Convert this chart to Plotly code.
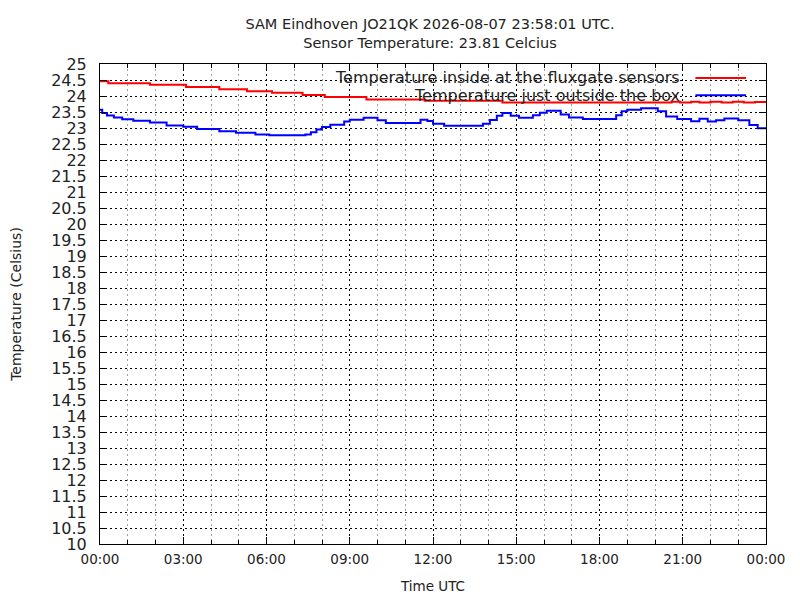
import plotly.graph_objects as go
import pandas as pd

day = "2026-08-07"

# inside sensor temperature (hours since midnight, Celsius)
inside_hours = [0.0, 0.3, 1.8, 3.1, 4.3, 5.3, 6.2, 7.3, 8.1, 9.6, 11.7, 14.5,
                20.6, 20.9, 21.3, 21.6, 22.0, 22.4, 22.8, 23.2, 23.6, 24.0]
inside_temp = [24.46, 24.40, 24.35, 24.28, 24.21, 24.15, 24.10, 24.03, 23.97, 23.89, 23.85, 23.80,
               23.82, 23.80, 23.82, 23.80, 23.82, 23.80, 23.82, 23.80, 23.81, 23.81]

# outside box temperature
outside_hours = [0.0, 0.08, 0.25, 0.5, 0.8, 1.2, 1.8, 2.4, 3.0, 3.5, 4.3, 4.9, 5.6, 6.1,
                 7.4, 7.6, 7.8, 8.0, 8.3, 8.8, 9.0, 9.5, 10.0, 10.3, 11.55, 11.8, 12.0, 12.4,
                 13.8, 14.05, 14.3, 14.5, 14.8, 15.1, 15.6, 15.85, 16.1, 16.6, 16.9, 17.4,
                 18.6, 18.8, 19.0, 19.5, 20.1, 20.4, 20.8, 21.3, 21.6, 21.9, 22.2, 22.5,
                 23.0, 23.4, 23.7, 24.0]
outside_temp = [23.57, 23.47, 23.39, 23.33, 23.27, 23.23, 23.17, 23.08, 23.04, 22.97, 22.90, 22.85, 22.80, 22.77,
                22.80, 22.87, 22.95, 23.03, 23.10, 23.20, 23.26, 23.32, 23.24, 23.16, 23.26, 23.22, 23.13, 23.07,
                23.13, 23.25, 23.38, 23.47, 23.38, 23.32, 23.40, 23.48, 23.54, 23.42, 23.33, 23.28,
                23.40, 23.52, 23.57, 23.62, 23.52, 23.36, 23.28, 23.21, 23.29, 23.20, 23.24, 23.30,
                23.24, 23.09, 22.99, 22.99]

series_names = ["Temperature inside at the fluxgate sensors", "Temperature just outside the box"]
title_lines = ["SAM Eindhoven JO21QK 2026-08-07 23:58:01 UTC.", "Sensor Temperature: 23.81 Celcius"]


def to_time(hours):
    return pd.Timestamp(day) + pd.to_timedelta(hours, unit="h")


fig = go.Figure()
fig.add_trace(go.Scatter(x=to_time(inside_hours), y=inside_temp, mode="lines",
                         line=dict(color="#ff0000", width=2, shape="hv"), name=series_names[0]))
fig.add_trace(go.Scatter(x=to_time(outside_hours), y=outside_temp, mode="lines",
                         line=dict(color="#0000ff", width=2, shape="hv"), name=series_names[1]))

# white key box hides the grid behind the legend
fig.add_shape(type="rect", xref="paper", yref="paper", x0=0.18, x1=0.987, y0=0.926, y1=1,
              fillcolor="white", line_width=0, layer="between")

# key, gnuplot style: text then sample line
for i, (name, col) in enumerate(zip(series_names, ["#ff0000", "#0000ff"])):
    yy = 0.971 - i * 0.036
    fig.add_annotation(x=0.874, y=yy, xref="paper", yref="paper", text=name, showarrow=False,
                       xanchor="right", yanchor="middle", font=dict(size=16, color="#222"))
    fig.add_shape(type="line", xref="paper", yref="paper", x0=0.894, x1=0.970, y0=yy, y1=yy,
                  line=dict(color=col, width=2))

# page has an 8px body margin, so margins are shifted by that
fig.update_layout(
    width=800, height=600,
    margin=dict(l=92, r=42, t=56, b=64),
    paper_bgcolor="white", plot_bgcolor="white",
    showlegend=False,
    font=dict(family="DejaVu Sans", color="#222"),
    title=dict(text="<br>".join(title_lines), x=0.5275, xanchor="center", y=0.965, yanchor="top",
               font=dict(size=14.5, color="#222")),
)

fig.update_xaxes(
    type="date", range=[to_time(0), to_time(24)], automargin=False,
    tick0=to_time(0), dtick=3 * 3600000, tickformat="%H:%M",
    ticks="inside", ticklen=7, tickcolor="black",
    showline=True, linecolor="black", linewidth=1, mirror="allticks",
    showgrid=True, gridcolor="black", griddash="2px,3px", gridwidth=1,
    minor=dict(dtick=3600000, ticks="inside", ticklen=4, tickcolor="black",
               showgrid=True, gridcolor="#a0a0a0", griddash="2px,3px", gridwidth=1),
    tickfont=dict(size=13.5), ticklabelstandoff=3,
    title=dict(text="Time UTC", font=dict(size=13.5), standoff=15),
)

fig.update_yaxes(
    range=[10, 25], dtick=0.5, tick0=10, automargin=False,
    ticks="inside", ticklen=7, tickcolor="black",
    showline=True, linecolor="black", linewidth=1, mirror="allticks",
    showgrid=True, gridcolor="black", griddash="2px,3px", gridwidth=1,
    zeroline=False,
    tickfont=dict(size=16), ticklabelstandoff=9,
    title=dict(text="Temperature (Celsius)", font=dict(size=14), standoff=40),
)

fig.write_html("out.html")
